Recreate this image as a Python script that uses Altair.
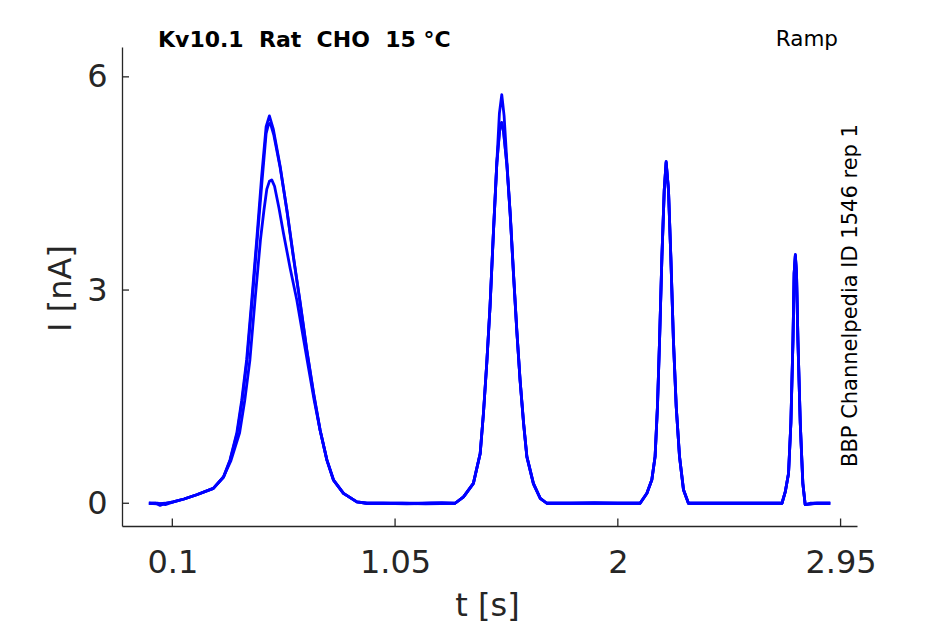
import altair as alt
import pandas as pd

# ---- sweep A (tallest peaks) ----
t_a = [0.000, 0.030, 0.048, 0.070, 0.104, 0.150, 0.204, 0.275, 0.318, 0.346, 0.375, 0.396, 0.417,
       0.439, 0.460, 0.481, 0.500, 0.514, 0.531, 0.560, 0.588, 0.616, 0.645, 0.673, 0.702, 0.730,
       0.759, 0.787, 0.830, 0.887, 0.929, 1.000, 1.100, 1.200, 1.306,
       1.342, 1.384, 1.413, 1.427, 1.441, 1.455, 1.470, 1.484, 1.495, 1.505, 1.515, 1.527, 1.541,
       1.555, 1.569, 1.583, 1.598, 1.612, 1.640, 1.669, 1.697, 1.800, 1.900, 2.000, 2.095,
       2.124, 2.145, 2.159, 2.169, 2.178, 2.188, 2.198, 2.206, 2.216, 2.226, 2.237, 2.249, 2.263,
       2.280, 2.301, 2.400, 2.500, 2.600, 2.700,
       2.714, 2.728, 2.738, 2.747, 2.752, 2.757, 2.762, 2.768, 2.778, 2.789, 2.799, 2.820, 2.860, 2.906]
i_a = [0.00, 0.00, -0.03, 0.00, 0.02, 0.06, 0.12, 0.21, 0.37, 0.61, 0.99, 1.45, 2.02,
       2.87, 3.71, 4.60, 5.30, 5.45, 5.26, 4.74, 4.13, 3.47, 2.82, 2.16, 1.55, 1.03,
       0.61, 0.33, 0.14, 0.02, 0.00, 0.00, -0.01, 0.00, 0.00,
       0.09, 0.28, 0.70, 1.27, 1.97, 2.77, 3.85, 4.79, 5.49, 5.75, 5.45, 4.79, 4.08,
       3.24, 2.44, 1.74, 1.13, 0.66, 0.28, 0.07, 0.00, 0.00, 0.01, 0.00, 0.00,
       0.14, 0.33, 0.66, 1.36, 2.30, 3.47, 4.41, 4.81, 4.41, 3.47, 2.30, 1.36, 0.66,
       0.19, 0.00, 0.00, 0.00, 0.00, 0.00,
       0.16, 0.42, 1.13, 2.30, 3.24, 3.50, 3.24, 2.30, 1.13, 0.28, -0.02, 0.00, 0.00, 0.00]

# ---- sweep B ----
t_b = [0.000, 0.035, 0.070, 0.104, 0.150, 0.204, 0.275, 0.319, 0.347, 0.377, 0.398, 0.419,
       0.441, 0.462, 0.483, 0.500, 0.510, 0.518, 0.533, 0.560, 0.589, 0.617, 0.646, 0.674, 0.703,
       0.731, 0.760, 0.788, 0.830, 0.887, 0.930, 1.050, 1.150, 1.250, 1.306,
       1.342, 1.384, 1.413, 1.427, 1.441, 1.455, 1.470, 1.484, 1.497, 1.5045, 1.513, 1.527, 1.541,
       1.555, 1.569, 1.583, 1.598, 1.612, 1.640, 1.669, 1.697, 1.850, 1.950, 2.095,
       2.124, 2.145, 2.159, 2.169, 2.178, 2.188, 2.198, 2.206, 2.216, 2.226, 2.237, 2.249, 2.263,
       2.280, 2.301, 2.450, 2.550, 2.700,
       2.714, 2.728, 2.738, 2.747, 2.752, 2.757, 2.762, 2.768, 2.778, 2.789, 2.799, 2.840, 2.880, 2.906]
i_b = [0.00, -0.01, 0.00, 0.02, 0.06, 0.12, 0.21, 0.37, 0.61, 0.99, 1.45, 2.02,
       2.87, 3.71, 4.55, 5.20, 5.33, 5.35, 5.18, 4.72, 4.12, 3.46, 2.81, 2.15, 1.54,
       1.02, 0.60, 0.32, 0.14, 0.02, 0.00, 0.00, 0.00, 0.01, 0.00,
       0.09, 0.28, 0.70, 1.27, 1.97, 2.77, 3.85, 4.79, 5.28, 5.35, 5.22, 4.75, 4.06,
       3.22, 2.43, 1.73, 1.12, 0.65, 0.27, 0.07, 0.00, 0.00, 0.00, 0.00,
       0.14, 0.33, 0.66, 1.36, 2.30, 3.47, 4.41, 4.79, 4.41, 3.47, 2.30, 1.36, 0.66,
       0.19, 0.00, 0.00, 0.00, 0.00,
       0.16, 0.42, 1.13, 2.30, 3.24, 3.48, 3.24, 2.30, 1.13, 0.28, -0.02, 0.00, 0.00, 0.00]

# ---- sweep C (lowest first peak) ----
t_c = [0.000, 0.040, 0.070, 0.104, 0.150, 0.204, 0.275, 0.318, 0.350, 0.387, 0.409, 0.431,
       0.453, 0.476, 0.491, 0.503, 0.514, 0.524, 0.536, 0.555, 0.574, 0.603, 0.631, 0.655, 0.680,
       0.705, 0.730, 0.759, 0.787, 0.830, 0.887, 0.929, 1.080, 1.180, 1.306,
       1.342, 1.384, 1.413, 1.427, 1.441, 1.455, 1.470, 1.484, 1.497, 1.5045, 1.513, 1.527, 1.541,
       1.555, 1.569, 1.583, 1.598, 1.612, 1.640, 1.669, 1.697, 1.820, 1.980, 2.095,
       2.124, 2.145, 2.159, 2.169, 2.178, 2.188, 2.198, 2.206, 2.216, 2.226, 2.237, 2.249, 2.263,
       2.280, 2.301, 2.420, 2.580, 2.700,
       2.714, 2.728, 2.738, 2.747, 2.752, 2.757, 2.762, 2.768, 2.778, 2.789, 2.799, 2.850, 2.906]
i_c = [0.00, 0.00, -0.02, 0.02, 0.06, 0.12, 0.21, 0.37, 0.60, 0.99, 1.45, 2.02,
       2.87, 3.71, 4.13, 4.42, 4.53, 4.55, 4.46, 4.15, 3.80, 3.30, 2.86, 2.40, 1.92,
       1.45, 1.03, 0.61, 0.33, 0.14, 0.02, 0.00, 0.00, -0.01, 0.00,
       0.09, 0.28, 0.70, 1.27, 1.97, 2.77, 3.85, 4.79, 5.30, 5.36, 5.22, 4.76, 4.07,
       3.23, 2.44, 1.74, 1.13, 0.66, 0.28, 0.07, 0.00, 0.00, 0.00, 0.00,
       0.14, 0.33, 0.66, 1.36, 2.30, 3.47, 4.41, 4.80, 4.41, 3.47, 2.30, 1.36, 0.66,
       0.19, 0.00, 0.00, 0.00, 0.00,
       0.16, 0.42, 1.13, 2.30, 3.24, 3.49, 3.24, 2.30, 1.13, 0.28, -0.02, 0.00, 0.00]

x_ticks = [0.1, 1.05, 2, 2.95]
y_ticks = [0, 3, 6]
NB = "\u00a0"
title_text = f"Kv10.1{NB}{NB}Rat{NB}{NB}CHO{NB}{NB}15{NB}°C"
protocol_text = "Ramp"
id_text = "BBP Channelpedia ID 1546 rep 1"

FONT = "DejaVu Sans"
AX = "#262626"
W, H = 735, 479

rows = []
for name, ts, vs in (("A", t_a, i_a), ("B", t_b, i_b), ("C", t_c, i_c)):
    for t, v in zip(ts, vs):
        rows.append({"t": t, "I": v, "sweep": name})
df = pd.DataFrame(rows)

xscale = alt.Scale(domain=[-0.1146, 3.02], nice=False, zero=False)
yscale = alt.Scale(domain=[-0.32, 6.42], nice=False, zero=False)

xaxis = alt.Axis(values=x_ticks, format=".3~g", ticks=False, tickSize=0, grid=False,
                 domainColor=AX, domainWidth=1.3, labelFont=FONT, labelFontSize=32,
                 labelColor=AX, labelPadding=21, labelBaseline="top",
                 title="t [s]", titleFont=FONT, titleFontSize=32, titleFontWeight="normal",
                 titleColor=AX, titleX=365, titleY=89, titleBaseline="alphabetic",
                 titleAlign="center", labelFlush=False, labelOverlap=False)
yaxis = alt.Axis(values=y_ticks, format="d", ticks=False, tickSize=0, grid=False,
                 domainColor=AX, domainWidth=1.3, labelFont=FONT, labelFontSize=32,
                 labelColor=AX, labelPadding=15, labelBaseline="middle",
                 title="I [nA]", titleFont=FONT, titleFontSize=32, titleFontWeight="normal",
                 titleColor=AX, titleX=-52, titleY=241, titleAngle=270,
                 titleBaseline="alphabetic", titleAlign="center", labelFlush=False,
                 labelOverlap=False)

X = alt.X("t:Q", scale=xscale, axis=xaxis)
Y = alt.Y("I:Q", scale=yscale, axis=yaxis)

lines = alt.Chart(df).mark_line(color="#0000ff", strokeWidth=2.8, strokeJoin="round").encode(
    x=X, y=Y, detail="sweep:N"
)

xt = alt.Chart(pd.DataFrame({"t": x_ticks})).mark_rule(color=AX, strokeWidth=1.3).encode(
    x=X, y=alt.value(H), y2=alt.value(H - 7.5)
)
yt = alt.Chart(pd.DataFrame({"I": y_ticks})).mark_rule(color=AX, strokeWidth=1.3).encode(
    y=Y, x=alt.value(0), x2=alt.value(7)
)

title = alt.Chart(pd.DataFrame({"label": [title_text]})).mark_text(
    font=FONT, fontSize=22, fontWeight="bold", color="black", align="left",
    baseline="alphabetic"
).encode(x=alt.value(36), y=alt.value(-0.5), text="label:N")

proto = alt.Chart(pd.DataFrame({"label": [protocol_text]})).mark_text(
    font=FONT, fontSize=21.5, color="black", align="right", baseline="alphabetic"
).encode(x=alt.value(716), y=alt.value(-1), text="label:N")

ident = alt.Chart(pd.DataFrame({"label": [id_text]})).mark_text(
    font=FONT, fontSize=21, color="black", align="left", baseline="alphabetic", angle=270
).encode(x=alt.value(735), y=alt.value(420), text="label:N")

chart = alt.layer(lines, xt, yt, title, proto, ident).properties(
    width=W, height=H,
    autosize=alt.AutoSizeParams(type="none"),
    padding={"left": 114, "top": 39, "right": 80, "bottom": 96},
    background="white",
).configure_view(stroke=None)

chart.save("out.html", embed_options={"renderer": "svg", "actions": False})
